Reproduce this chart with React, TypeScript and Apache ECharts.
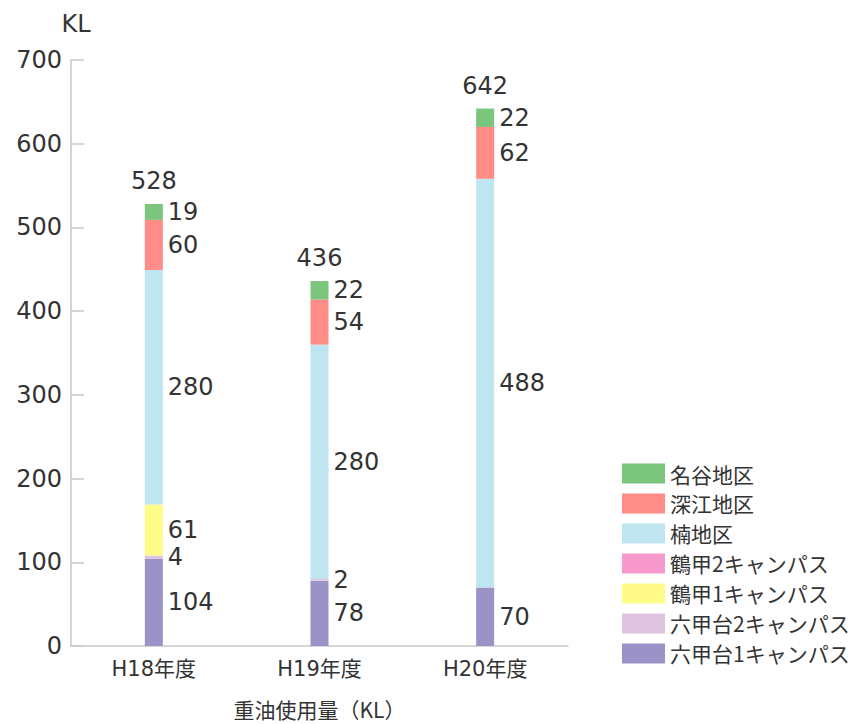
import React, { useEffect, useRef } from "react";
import * as echarts from "echarts";

// Fiscal years (categories)
const years = ["H18年度", "H19年度", "H20年度"];

// Heavy oil consumption per site, in KL (bottom of the stack first)
const rokkodai1 = [104, 78, 70];
const rokkodai2 = [4, 2, 0];
const tsurukabuto1 = [61, 0, 0];
const tsurukabuto2 = [0, 0, 0];
const kusunoki = [280, 280, 488];
const fukae = [60, 54, 62];
const myodani = [19, 22, 22];

const seriesNames = [
  "六甲台1キャンパス",
  "六甲台2キャンパス",
  "鶴甲1キャンパス",
  "鶴甲2キャンパス",
  "楠地区",
  "深江地区",
  "名谷地区",
];
const seriesData = [rokkodai1, rokkodai2, tsurukabuto1, tsurukabuto2, kusunoki, fukae, myodani];
const seriesColors = ["#9b93c8", "#dfc4e0", "#fefb88", "#f799cc", "#bfe6f0", "#ff8c87", "#7cc57d"];

const yTicks = { min: 0, max: 700, interval: 100 };

const NUM_FONT = "'DejaVu Sans', 'Noto Sans CJK JP', sans-serif";
const JP_FONT = "'Noto Sans CJK JP', 'DejaVu Sans', sans-serif";
const TEXT = "#333";
const AXIS = "#c8c8c8";

const W = 860;
const H = 724;

export default function App() {
  const ref = useRef<HTMLDivElement>(null);

  useEffect(() => {
    document.body.style.margin = "0";
    if (!ref.current) return;
    const chart = echarts.init(ref.current, null, { renderer: "svg", width: W, height: H });

    const totals = years.map((_, i) => seriesData.reduce((s, arr) => s + arr[i], 0));

    const stacked = seriesNames.map((name, k) => ({
      name,
      type: "bar",
      stack: "oil",
      barWidth: 18,
      data: seriesData[k],
      itemStyle: { color: seriesColors[k] },
      label: {
        show: true,
        position: "right",
        distance: 5,
        fontFamily: NUM_FONT,
        fontSize: 24,
        color: TEXT,
        formatter: (p: any) => (p.value ? String(p.value) : ""),
      },
    }));

    // zero-height segment on top of each stack that carries the total
    const totalSeries = {
      name: "total",
      type: "bar",
      stack: "oil",
      barWidth: 18,
      data: years.map(() => 0),
      itemStyle: { color: "transparent" },
      label: {
        show: true,
        position: "top",
        distance: 11,
        fontFamily: NUM_FONT,
        fontSize: 24,
        color: TEXT,
        formatter: (p: any) => String(totals[p.dataIndex]),
      },
      tooltip: { show: false },
    };

    chart.setOption({
      animation: false,
      grid: { left: 71, right: 292, top: 60, bottom: 77, containLabel: false },
      legend: {
        orient: "vertical",
        left: 617,
        top: 458,
        data: [...seriesNames].reverse(),
        itemWidth: 43,
        itemHeight: 20,
        itemGap: 9,
        icon: "rect",
        textStyle: {
          fontFamily: JP_FONT,
          fontSize: 21,
          color: TEXT,
          lineHeight: 20,
        },
      },
      xAxis: {
        type: "category",
        data: years,
        name: "重油使用量（KL）",
        nameLocation: "middle",
        nameGap: 52,
        nameTextStyle: { fontFamily: JP_FONT, fontSize: 21, color: TEXT },
        axisLine: { lineStyle: { color: AXIS, width: 1.5 } },
        axisTick: { inside: true, length: 15, lineStyle: { color: AXIS, width: 1.5 } },
        axisLabel: { fontFamily: NUM_FONT, fontSize: 21, color: TEXT, margin: 12 },
      },
      yAxis: {
        type: "value",
        min: yTicks.min,
        max: yTicks.max,
        interval: yTicks.interval,
        name: "KL",
        nameLocation: "end",
        nameGap: 24,
        nameTextStyle: { fontFamily: NUM_FONT, fontSize: 24, color: TEXT, padding: [0, 0, 0, 10] },
        axisLine: { show: true, lineStyle: { color: AXIS, width: 1.5 } },
        axisTick: { show: true, inside: true, length: 13, lineStyle: { color: AXIS, width: 1.5 } },
        splitLine: { show: false },
        axisLabel: { fontFamily: NUM_FONT, fontSize: 24, color: TEXT, margin: 9 },
      },
      series: [...stacked, totalSeries],
    });

    return () => chart.dispose();
  }, []);

  return <div ref={ref} style={{ width: W, height: H }} />;
}
